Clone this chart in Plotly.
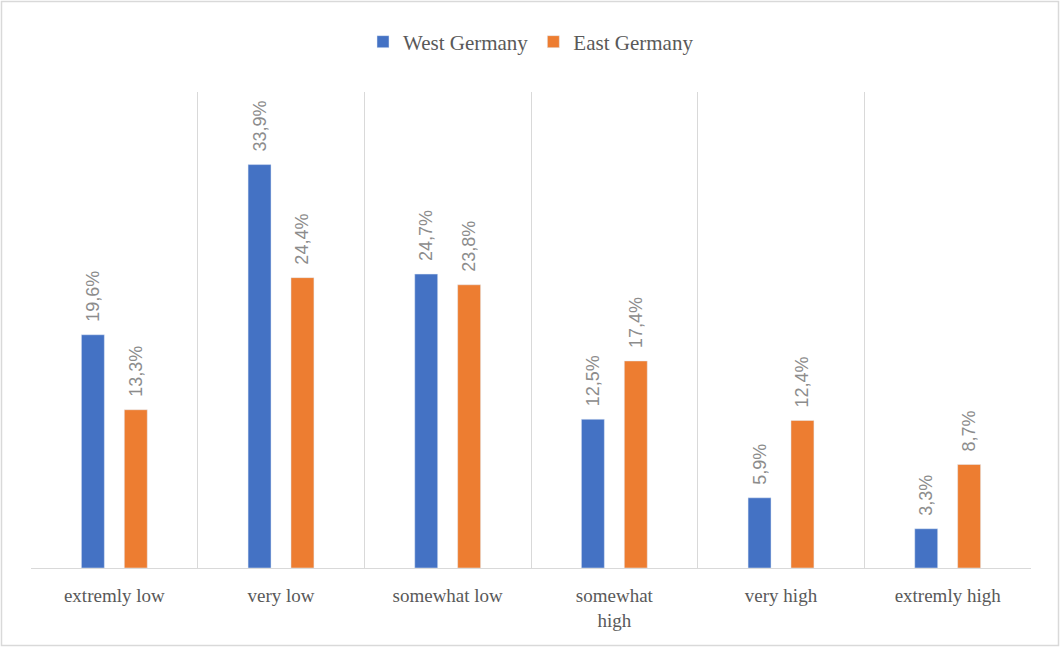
import plotly.graph_objects as go

categories = ["extremly low", "very low", "somewhat low", "somewhat<br>high", "very high", "extremly high"]
west = [19.6, 33.9, 24.7, 12.5, 5.9, 3.3]
east = [13.3, 24.4, 23.8, 17.4, 12.4, 8.7]

W, H = 1061, 648
ml, mr, mt, mb = 31, 30, 92, 80

label_font = dict(family="Liberation Sans", size=18, color="#8c8c8c")
serif = "Liberation Serif"

fig = go.Figure()
for name, vals, col in [("West Germany", west, "#4472C4"), ("East Germany", east, "#ED7D31")]:
    fig.add_trace(go.Bar(name=name, x=categories, y=vals, marker_color=col,
                         texttemplate="\u00a0\u00a0%{y:.1f}%", textposition="outside", textangle=-90,
                         constraintext="none", textfont=label_font, cliponaxis=False))

pw = W - ml - mr
ph = H - mt - mb
fig.add_shape(type="rect", xref="paper", yref="paper",
              x0=-(ml - 1.5) / pw, x1=1 + (mr - 2.5) / pw,
              y0=-(mb - 2.5) / ph, y1=1 + (mt - 1.5) / ph,
              line=dict(color="#d9d9d9", width=1.5), fillcolor="rgba(0,0,0,0)", layer="below")

fig.update_layout(
    width=W, height=H,
    margin=dict(l=ml, r=mr, t=mt, b=mb),
    paper_bgcolor="white", plot_bgcolor="white",
    separators=",.",
    barmode="group", bargap=0.485, bargroupgap=0.465,
    showlegend=True,
    legend=dict(orientation="h", x=0.5, xanchor="center", y=1 + 50 / ph, yanchor="middle",
                font=dict(family=serif, size=21, color="#595959"),
                itemwidth=30, traceorder="normal"),
    xaxis=dict(type="category", tickson="boundaries", showgrid=True, gridcolor="#d9d9d9", gridwidth=1,
               showline=True, linecolor="#d9d9d9", linewidth=1, ticks="", ticklabelstandoff=10,
               tickfont=dict(family=serif, size=19, color="#595959"),
               zeroline=False),
    yaxis=dict(range=[0, 40], visible=False, showgrid=False, zeroline=False),
)

fig.write_html("out.html")
